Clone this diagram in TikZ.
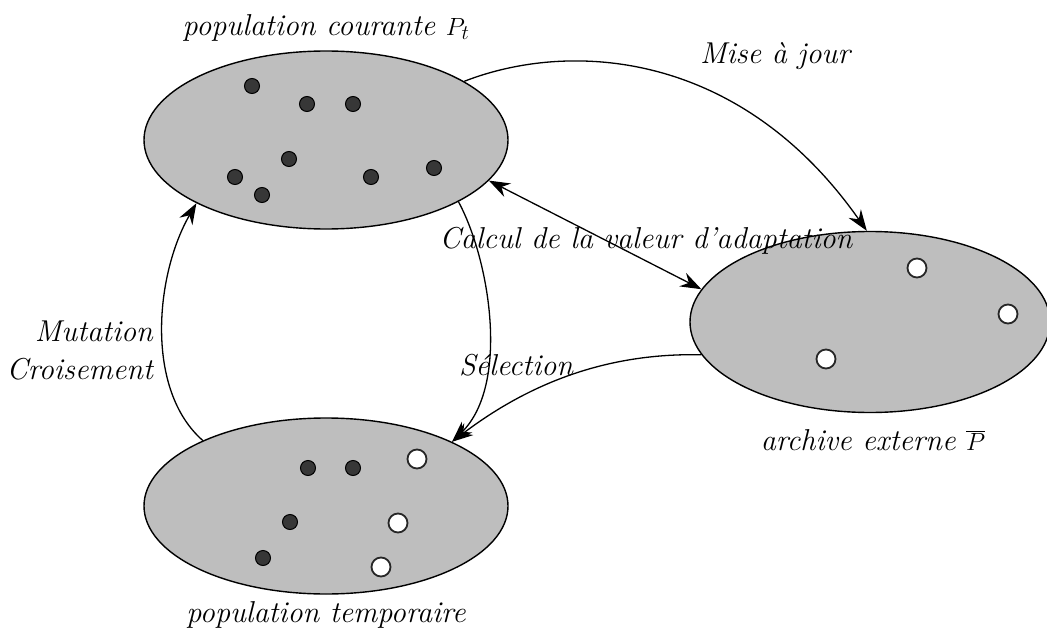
\documentclass[tikz,border=0pt]{standalone}
\usetikzlibrary{shapes.geometric,arrows.meta}
\definecolor{ellfill}{RGB}{190,190,190}
\definecolor{dotfill}{RGB}{55,55,55}
\begin{document}
\begin{tikzpicture}[x=1pt,y=-1pt,
  ell/.style={ellipse,draw=black,fill=ellfill,line width=1.4pt,inner sep=0pt},
  dk/.style={circle,draw=black,fill=dotfill,line width=1pt,minimum size=15pt,inner sep=0pt},
  wt/.style={circle,draw=black!85,fill=white,line width=1.8pt,minimum size=19pt,inner sep=0pt},
  lbl/.style={font=\fontsize{30.2}{38}\selectfont\itshape,inner sep=0pt,anchor=base},
  tip/.style={},
  arr/.style={line width=1.3pt,-{Stealth[length=21pt,width=15pt,inset=7pt]}},
  darr/.style={line width=1.3pt,{Stealth[length=21pt,width=15pt,inset=7pt]}-{Stealth[length=21pt,width=15pt,inset=7pt]}},
]
\useasboundingbox (0,0) rectangle (1047,629);

% ellipses
\node[ell,minimum width=364,minimum height=178] (Pt) at (326,140) {};
\node[ell,minimum width=364,minimum height=176] (Bt) at (326,506) {};
\node[ell,minimum width=360,minimum height=181] (Ar) at (870,322) {};

% dots in current population
\node[dk] (p1) at (252,86) {};
\node[dk] (p2) at (307,104) {};
\node[dk] (p3) at (353,104) {};
\node[dk] (p4) at (289,159) {};
\node[dk] (p5) at (235,177) {};
\node[dk] (p6) at (262,195) {};
\node[dk] (p7) at (371,177) {};
\node[dk] (p8) at (434,168) {};

% dots in temporary population
\node[dk] (b1) at (308,468) {};
\node[dk] (b2) at (353,468) {};
\node[dk] (b3) at (290,522) {};
\node[dk] (b4) at (263,558) {};
\node[wt] (b5) at (417,459) {};
\node[wt] (b6) at (398,523) {};
\node[wt] (b7) at (381,567) {};

% dots in archive
\node[wt] (a1) at (917,268) {};
\node[wt] (a2) at (1008,314) {};
\node[wt] (a3) at (826,359) {};

% labels
\node[lbl] (lPt) at (326,35) {population courante $P_t$};
\node[lbl] (lBt) at (326,622) {population temporaire};
\node[lbl] (lAr) at (873,450) {archive externe $\overline{P}$};
\node[lbl] (lMaj) at (775,63) {Mise à jour};
\node[lbl] (lSel) at (516,375) {Sélection};
\node[lbl,anchor=east,align=right] (lMut) at (153,350) {Mutation\\Croisement};

% connectors
\draw[arr] (Pt.23) .. controls (570,40) and (740,50) .. (Ar.92);
\draw[darr] (Pt.-14.5) -- (Ar.169);
\draw[arr] (Pt.-25.5) .. controls (490,260) and (510,385) .. (Bt.27);
\draw[arr] (Ar.191) .. controls (620,353) and (540,375) .. (Bt.27);
\draw[arr] (Bt.152) .. controls (145,390) and (155,275) .. (Pt.206);

\node[lbl] (lCalc) at (646,248) {Calcul de la valeur d'adaptation};
\end{tikzpicture}
\end{document}
